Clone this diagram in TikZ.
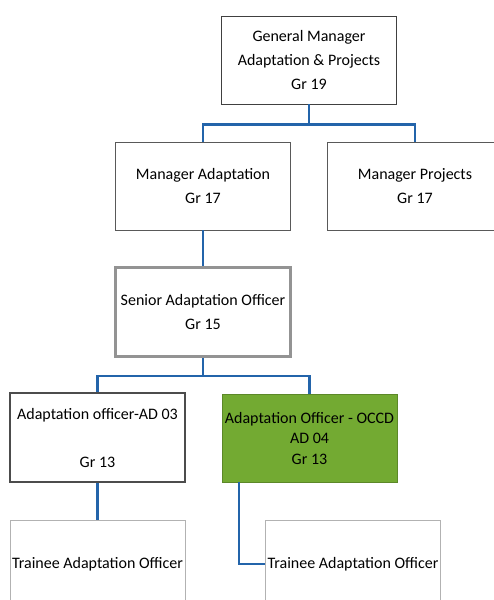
\documentclass[tikz,border=0pt]{standalone}
\usepackage{fontspec}
\setmainfont{Carlito}
\definecolor{linea}{RGB}{35,100,170}
\definecolor{verde}{RGB}{115,170,50}
\begin{document}
\begin{tikzpicture}[x=1pt, y=1pt,
    caja/.style={draw=gray!70!black, line width=0.8pt, minimum width=175pt, minimum height=88pt,
      inner sep=0pt, align=center, font=\fontsize{16}{24}\selectfont},
    conector/.style={draw=linea, line width=2.5pt}]
    \useasboundingbox (0,0) rectangle (494,-600);
    \clip (0,0) rectangle (494,-600);
    % Gerencia
    \node[caja, draw=black!75] (gm) at (309,-60) {General Manager\\Adaptation \& Projects\\Gr 19};
    \node[caja] (ma) at (203,-186) {Manager Adaptation\\Gr 17};
    \node[caja] (mp) at (415,-186) {Manager Projects\\Gr 17};
    % Oficial senior
    \node[caja, draw=gray!85, line width=2.5pt, minimum height=89pt] (sao) at (203,-312) {Senior Adaptation Officer\\Gr 15};
    % Oficiales
    \node[caja, draw=black!70, line width=2.5pt, minimum height=89pt] (ao3) at (97.5,-437.5) {Adaptation officer-AD 03\\[24pt]Gr 13};
    \node[caja, fill=verde, draw=verde!80!black, font=\fontsize{16}{20.5}\selectfont] (ao4) at (309.5,-438) {Adaptation Officer - OCCD\\AD 04\\Gr 13};
    % Practicantes
    \node[caja, draw=gray!60] (tao1) at (97.5,-564) {Trainee Adaptation Officer};
    \node[caja, draw=gray!60] (tao2) at (353,-564) {Trainee Adaptation Officer};
    % Lineas
    \draw[conector] (gm.south) -- ++(0,-20) -| (ma.north);
    \draw[conector] (gm.south) -- ++(0,-20) -| (mp.north);
    \draw[conector] (ma.south) -- (sao.north);
    \draw[conector] (sao.south) -- ++(0,-18) -| (ao3.north);
    \draw[conector] (sao.south) -- ++(0,-18) -| (ao4.north);
    \draw[conector] (ao3.south) -- (tao1.north);
    \draw[conector] ([xshift=-70.5pt]ao4.south) |- (tao2.west);
\end{tikzpicture}
\end{document}
